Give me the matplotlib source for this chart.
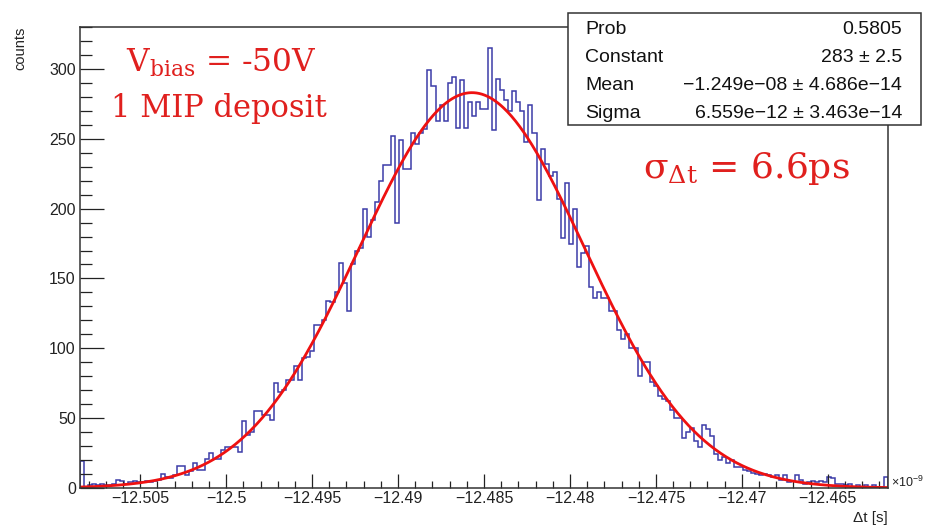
"""Delta-t histogram with Gaussian fit (ROOT style look)."""

import numpy as np
import matplotlib
matplotlib.use("Agg")
import matplotlib.pyplot as plt
from matplotlib.ticker import MultipleLocator, FuncFormatter
from matplotlib.patches import Rectangle

# histogram range in units of 1e-9 s, 200 bins
x_min = -12.5085
x_max = -12.4615

counts = [
    19, 1, 2, 3, 2, 3, 2, 2, 3, 6,
    5, 3, 4, 5, 4, 4, 5, 4, 5, 6,
    10, 8, 7, 9, 16, 16, 9, 12, 18, 13,
    13, 21, 25, 21, 21, 27, 29, 29, 29, 26,
    48, 38, 40, 55, 55, 52, 52, 49, 75, 69,
    70, 77, 77, 87, 77, 93, 94, 98, 117, 117,
    120, 134, 133, 140, 161, 147, 127, 160, 170, 172,
    200, 180, 192, 205, 220, 231, 231, 252, 190, 249,
    228, 228, 254, 246, 254, 257, 299, 288, 263, 274,
    263, 290, 294, 258, 292, 258, 276, 266, 276, 271,
    271, 315, 256, 293, 285, 278, 270, 284, 276, 270,
    248, 274, 254, 206, 243, 232, 223, 226, 207, 179,
    218, 175, 200, 158, 168, 173, 144, 136, 140, 136,
    136, 127, 127, 113, 107, 110, 100, 100, 80, 90,
    90, 76, 73, 66, 64, 62, 56, 50, 50, 36,
    40, 43, 34, 29, 45, 42, 37, 24, 20, 22,
    18, 20, 15, 15, 13, 12, 11, 10, 9, 10,
    9, 8, 9, 6, 9, 4, 5, 9, 6, 3,
    4, 5, 4, 5, 4, 8, 7, 3, 3, 2,
    3, 1, 2, 1, 2, 1, 2, 1, 1, 8,
]

# gaussian fit result (x in 1e-9 s)
fit_const = 283.0
fit_mean = -12.4857
fit_sigma = 0.006559

stat_names = ["Prob", "Constant", "Mean", "Sigma"]
stat_values = ["0.5805", "283 \u00b1 2.5",
               "\u22121.249e\u221208 \u00b1 4.686e\u221214",
               "6.559e\u221212 \u00b1 3.463e\u221214"]

hist_color = "#3c3ca8"
fit_color = "#ee1111"
note_color = "#e0201e"

plt.rcParams["font.family"] = ["Liberation Sans", "DejaVu Sans"]
plt.rcParams["mathtext.fontset"] = "dejavuserif"

fig = plt.figure(figsize=(9.25, 5.29), dpi=100)
ax = fig.add_axes([80 / 925, 41 / 529, 808 / 925, 461 / 529])

edges = np.linspace(x_min, x_max, len(counts) + 1)
ax.stairs(counts, edges, baseline=0, color=hist_color, linewidth=1.1)

xf = np.linspace(x_min, x_max, 600)
yf = fit_const * np.exp(-0.5 * ((xf - fit_mean) / fit_sigma) ** 2)
ax.plot(xf, yf, color=fit_color, linewidth=2.0)

ax.set_xlim(x_min, x_max)
ax.set_ylim(0, 330)

ax.xaxis.set_major_locator(MultipleLocator(0.005))
ax.xaxis.set_minor_locator(MultipleLocator(0.001))
ax.yaxis.set_major_locator(MultipleLocator(50))
ax.yaxis.set_minor_locator(MultipleLocator(10))


def xfmt(v, pos):
    s = ("%.3f" % v).rstrip("0").rstrip(".")
    return s.replace("-", "\u2212")


ax.xaxis.set_major_formatter(FuncFormatter(xfmt))

ax.tick_params(axis="both", which="both", direction="in", top=False,
               right=False, colors="#222222", labelcolor="#222222")
ax.tick_params(axis="y", which="major", length=17, width=0.9, labelsize=11.5, pad=3)
ax.tick_params(axis="y", which="minor", length=8.5, width=0.9)
ax.tick_params(axis="x", which="major", length=10, width=0.9, labelsize=11.5, pad=2)
ax.tick_params(axis="x", which="minor", length=5, width=0.9)
for sp in ax.spines.values():
    sp.set_linewidth(1.1)
    sp.set_color("#333333")

fig.text(20 / 925, 1 - 27 / 529, "counts", rotation=90, ha="center", va="top",
         fontsize=10.5, color="#222222")
fig.text(888 / 925, 1 - 518 / 529, "\u0394t [s]", ha="right", va="center",
         fontsize=11, color="#222222")
fig.text(891 / 925, 1 - 487 / 529, "\u00d710$^{\\mathregular{-9}}$", ha="left",
         va="baseline", fontsize=9, color="#222222")

# red annotations
fig.text(221 / 925, 1 - 72 / 529, "V$_\\mathrm{bias}$ = -50V", ha="center",
         va="baseline", fontsize=22.5, color=note_color, family="DejaVu Serif")
fig.text(219 / 925, 1 - 117 / 529, "1 MIP deposit", ha="center",
         va="baseline", fontsize=22, color=note_color, family="DejaVu Serif")
fig.text(643 / 925, 1 - 178 / 529, "\u03c3$_{\\mathrm{\\Delta t}}$ = 6.6ps",
         ha="left", va="baseline", fontsize=26, color=note_color,
         family="DejaVu Serif")

# stats box
bx0, bx1, by0, by1 = 568, 921, 13, 125
fig.patches.append(Rectangle((bx0 / 925, 1 - by1 / 529), (bx1 - bx0) / 925,
                             (by1 - by0) / 529, transform=fig.transFigure,
                             facecolor="white", edgecolor="#333333",
                             linewidth=1.1, zorder=5))
row_y = [29, 57, 85, 113]
for name, val, yy in zip(stat_names, stat_values, row_y):
    fig.text(585 / 925, 1 - yy / 529, name, ha="left", va="center",
             fontsize=14, color="#111111", zorder=6)
    fig.text(902 / 925, 1 - yy / 529, val, ha="right", va="center",
             fontsize=14, color="#111111", zorder=6)

fig.savefig("out.png", dpi=100)
